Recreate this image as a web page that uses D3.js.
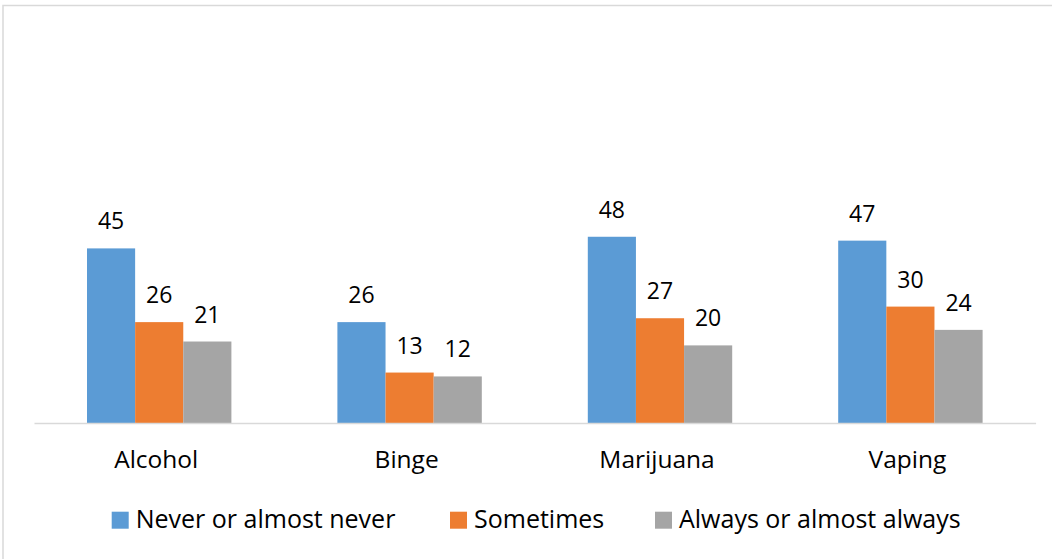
<!DOCTYPE html>
<html><head><meta charset="utf-8">
<script src="https://cdn.jsdelivr.net/npm/d3@7"></script>
<style>body{margin:0;background:#fff;} svg{display:block;} text{font-family:"Open Sans",sans-serif;fill:#000;}</style>
</head><body>
<svg id="c" width="1052" height="559"></svg>
<script>
const categories = ["Alcohol", "Binge", "Marijuana", "Vaping"];
const seriesNames = ["Never or almost never", "Sometimes", "Always or almost always"];
const never = [45, 26, 48, 47];
const sometimes = [26, 13, 27, 30];
const always = [21, 12, 20, 24];
const colors = ["#5b9bd5", "#ed7d31", "#a5a5a5"];
const seriesValues = [never, sometimes, always];

(function(){
const svg = d3.select("#c");
svg.append("rect").attr("x", 3).attr("y", 5.5).attr("width", 1060).attr("height", 560)
  .attr("fill", "none").attr("stroke", "#d9d9d9").attr("stroke-width", 1.5);

const pLeft = 34, pRight = 1035.6, pTop = 35, pBottom = 423;
const x0 = d3.scaleBand().domain(categories).range([pLeft, pRight]).paddingInner(106/250.4).paddingOuter(53/250.4);
const x1 = d3.scaleBand().domain(d3.range(3)).range([0, x0.bandwidth()]);
const y = d3.scaleLinear().domain([0, 100]).range([pBottom, pTop]);

const g = svg.append("g");
categories.forEach((c, ci) => {
  seriesValues.forEach((vals, si) => {
    const v = vals[ci];
    const bx = x0(c) + x1(si);
    g.append("rect").attr("x", bx).attr("y", y(v)).attr("width", x1.bandwidth()).attr("height", y(0) - y(v))
      .attr("fill", colors[si]);
    g.append("text").attr("x", bx + x1.bandwidth()/2).attr("y", y(v) - 19)
      .attr("text-anchor", "middle").attr("font-size", 23).text(v);
  });
});

const xAxis = d3.axisBottom(x0).tickSize(0).tickPadding(0);
const ax = svg.append("g").attr("transform", `translate(0,${pBottom})`).call(xAxis);
ax.select(".domain").attr("stroke", "#d9d9d9").attr("stroke-width", 1.5);
ax.selectAll("text").attr("font-size", 24.5).attr("dy", null).attr("y", 45.3).attr("dx", -3).style("font-family", "'Open Sans',sans-serif").attr("fill", "#000");

const legendX = [111.7, 450, 655];
seriesNames.forEach((n, i) => {
  svg.append("rect").attr("x", legendX[i]).attr("y", 511.7).attr("width", 17).attr("height", 17).attr("fill", colors[i]);
  svg.append("text").attr("x", legendX[i] + 24).attr("y", 528).attr("font-size", 25).text(n);
});
})();
</script>
</body></html>
